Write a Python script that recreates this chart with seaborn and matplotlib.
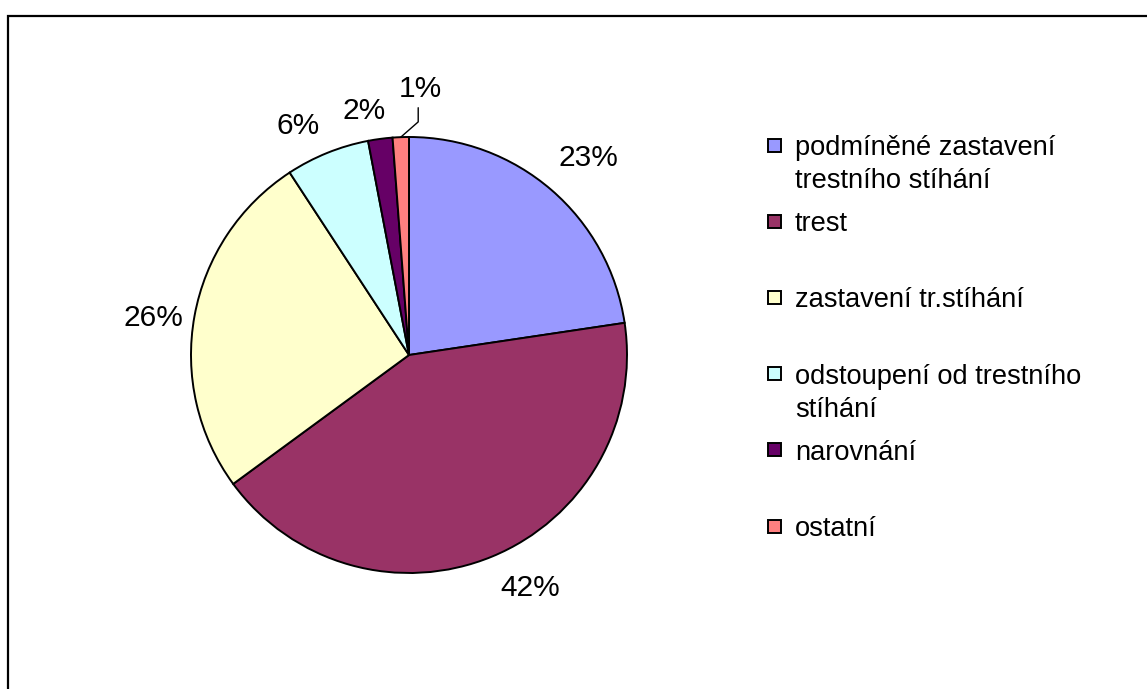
import numpy as np
import matplotlib.pyplot as plt
import seaborn as sns
from matplotlib.patches import Rectangle

# data
labels = [
    "podmíněné zastavení\ntrestního stíhání",
    "trest",
    "zastavení tr.stíhání",
    "odstoupení od trestního\nstíhání",
    "narovnání",
    "ostatní",
]
shares = [22.6, 42.2, 25.8, 6.2, 1.8, 1.2]
colors = ["#9999FF", "#993366", "#FFFFCC", "#CCFFFF", "#660066", "#FF8080"]

# small pixel nudges for the percentage labels (layout only)
label_nudge = [(12, 2), (23, 5), (-3, -9), (-15, -9), (-11, -11), (0, 0)]

sns.set_style("white")
plt.rcParams["font.family"] = ["Liberation Sans", "DejaVu Sans"]
plt.rcParams["text.color"] = "black"

W, H = 1147, 689
fig = plt.figure(figsize=(W / 100, H / 100), dpi=100)

# outer frame (cut off at right and bottom)
fig.patches.append(Rectangle((8 / W, -0.1), 1.2, (H - 16) / H + 0.1,
                             transform=fig.transFigure, fill=False,
                             edgecolor="black", linewidth=1.6))

cx, cy, r = 409, 355, 218
ax = fig.add_axes([(cx - r) / W, (H - cy - r) / H, 2 * r / W, 2 * r / H])
wedges, _ = ax.pie(shares, colors=colors, startangle=90, counterclock=False,
                   radius=1, wedgeprops=dict(edgecolor="black", linewidth=1.4))
ax.set_xlim(-1, 1)
ax.set_ylim(-1, 1)
ax.set_axis_off()

pct = [f"{round(s):d}%" for s in shares]
fs_lab = 21.5
for i, w in enumerate(wedges):
    ang = np.deg2rad((w.theta1 + w.theta2) / 2)
    if i == len(wedges) - 1:
        # small slice: label above with leader line
        x0, y0 = np.cos(ang), np.sin(ang)
        ax.plot([x0, x0 + 0.08, x0 + 0.08], [y0, y0 + 0.07, y0 + 0.135],
                color="black", linewidth=1.0, clip_on=False)
        ax.text(x0 + 0.09, y0 + 0.155, pct[i], ha="center", va="bottom",
                fontsize=fs_lab)
        continue
    d = 257 / r
    nx, ny = label_nudge[i]
    ax.text(d * np.cos(ang) + nx / r, d * np.sin(ang) + ny / r, pct[i],
            ha="center", va="center", fontsize=fs_lab)

# legend drawn as evenly spaced entries
fs_leg = 19.6
top = 145
step = 76.2
sq = 13
for i, (lab, col) in enumerate(zip(labels, colors)):
    yc = top + i * step
    fig.patches.append(Rectangle((768 / W, (H - yc - sq / 2) / H), sq / W, sq / H,
                                 transform=fig.transFigure, facecolor=col,
                                 edgecolor="black", linewidth=1.4))
    for k, line in enumerate(lab.split("\n")):
        fig.text(795 / W, (H - (yc + 10 + 33 * k)) / H, line, ha="left",
                 va="baseline", fontsize=fs_leg, transform=fig.transFigure)

fig.savefig("out.png", dpi=100)
